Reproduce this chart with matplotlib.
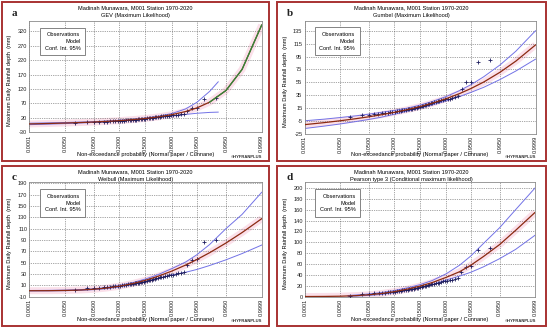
import numpy as np
import matplotlib
matplotlib.use('Agg')
import matplotlib.pyplot as plt
from matplotlib.patches import Rectangle
from statistics import NormalDist

####################################################################################################

W, H = 550, 330

station = 'Madinah Munawara, M001 Station 1970-2020'
methods = ['GEV (Maximum Likelihood)', 'Gumbel (Maximum Likelihood)',
           'Weibull (Maximum Likelihood)', 'Pearson type 3 (Conditional maximum likelihood)']
letters = ['a', 'b', 'c', 'd']
legend_lines = ['Observations', 'Model', 'Conf. Int. 95%']
x_label = 'Non-exceedance probability (Normal paper / Cunnane)'
y_label = 'Maximum Daily Rainfall depth  (mm)'

x_ticks = [0.0001, 0.005, 0.05, 0.2, 0.5, 0.8, 0.95, 0.995, 0.9999]

# annual maxima 1970-2020 (sorted), mm
obs = [2, 4.5, 5, 6, 6.5, 7, 7.5, 8, 8.5, 9, 9.5, 10, 10.5, 11, 11.5, 12, 12.5, 13, 13.5, 14,
       14.5, 15, 15.5, 16, 16.5, 17, 18, 19, 19.5, 20, 21, 22, 22.5, 23, 24, 25, 25.5, 26, 27, 28,
       28.5, 29, 30, 31, 32, 34, 45, 55, 56, 86, 90]

p_curve = [0.0001, 0.001, 0.005, 0.02, 0.05, 0.1, 0.2, 0.35, 0.5, 0.65, 0.8, 0.9, 0.95, 0.98,
           0.995, 0.999, 0.9999]

gev_model = [-1.0, 0.6, 2.1, 4.0, 5.8, 7.7, 10.4, 14.1, 18.0, 23.0, 31.1, 42.0, 54.6, 74.7,
             115, 188, 342]
p_gev_ci = [0.0001, 0.001, 0.005, 0.02, 0.05, 0.1, 0.2, 0.35, 0.5, 0.65, 0.8, 0.9, 0.95, 0.98, 0.99]
gev_upper = [1.5, 2.8, 4.0, 5.6, 7.1, 8.9, 11.6, 15.3, 19.6, 25.2, 35.0, 51.0, 74.0, 112, 145]
gev_lower = [-3.5, -1.6, 0.2, 2.4, 4.4, 6.4, 9.2, 12.8, 16.4, 20.8, 26.5, 32.0, 36.0, 39.0, 40.0]

gumbel_model = [-10.5, -7.4, -4.5, -1.2, 1.7, 4.5, 8.4, 13.0, 17.5, 22.6, 29.7, 37.8, 45.6, 55.6,
                70.7, 88.1, 113]
gumbel_upper = [-4.5, -2.0, 0.5, 3.2, 5.8, 8.3, 11.4, 15.3, 19.8, 25.2, 33.0, 42.4, 51.6, 63.8,
                82.0, 103.5, 135]
gumbel_lower = [-16.5, -12.8, -9.5, -5.6, -2.4, 0.7, 5.4, 10.7, 15.2, 20.0, 26.4, 33.2, 39.6,
                47.4, 59.4, 72.7, 91]

weibull_model = [0.5, 0.6, 1.0, 1.8, 3.2, 5.0, 8.4, 13.5, 19.0, 25.7, 35.1, 45.7, 55.5, 67.6,
                 84.6, 103, 127.5]
weibull_upper = [1.0, 1.2, 1.6, 2.6, 4.0, 6.0, 9.8, 15.2, 21.2, 28.5, 39.5, 51.0, 64.0, 82.0,
                 110, 135, 174]
weibull_lower = [0.2, 0.3, 0.6, 1.3, 2.5, 4.0, 7.0, 11.6, 16.5, 22.0, 28.5, 33.0, 38.0, 45.0,
                 55.0, 66.0, 81]

p3_model = [0.3, 0.5, 0.9, 2.0, 3.6, 5.6, 9.2, 14.2, 19.5, 25.8, 35.5, 46.0, 58.0, 74.0, 96.0,
            122, 155]
p_p3_ci = [0.01, 0.02, 0.05, 0.1, 0.2, 0.35, 0.5, 0.65, 0.8, 0.9, 0.95, 0.98, 0.995, 0.999, 0.9999]
p3_upper = [2.2, 3.2, 5.2, 7.4, 11.2, 16.6, 22.2, 29.5, 42.0, 58.0, 75.0, 98.0, 127, 160, 200]
p3_lower = [0.6, 1.2, 2.4, 4.0, 7.2, 11.9, 16.8, 22.2, 30.5, 38.0, 45.0, 55.0, 70.0, 87.0, 113]

####################################################################################################

nd = NormalDist()
fwd = np.vectorize(lambda p: nd.inv_cdf(min(max(p, 1e-9), 1 - 1e-9)), otypes=[float])
inv = np.vectorize(nd.cdf, otypes=[float])

n = len(obs)
p_obs = [(i + 1 - 0.4) / (n + 0.2) for i in range(n)]   # Cunnane

MODEL = '#8b2a12'
CI = '#7272e6'
OBS = '#1e1e5e'
FRAME = '#a83232'
FS = 4.1
FONT = 'Liberation Sans'

fig = plt.figure(figsize=(W / 100, H / 100), dpi=100)
fig.patch.set_facecolor('white')


def px_rect(l, t, r, b):
    return [l / W, 1 - b / H, (r - l) / W, (b - t) / H]


panels = [
    # frame, axes, yticks, ylim, model, ci probs, upper, lower
    dict(frame=(2, 2, 269, 161), axes=(29.3, 21, 261.7, 132.3),
         yticks=range(-30, 321, 50), ylim=(-30, 356),
         model=gev_model, p_ci=p_gev_ci, upper=gev_upper, lower=gev_lower),
    dict(frame=(277, 2, 546, 161), axes=(304.5, 20.7, 535.5, 134),
         yticks=range(-25, 136, 20), ylim=(-25, 150.6),
         model=gumbel_model, p_ci=p_curve, upper=gumbel_upper, lower=gumbel_lower),
    dict(frame=(2, 166, 269, 326), axes=(29.3, 182.3, 261.7, 296.7),
         yticks=range(-10, 191, 20), ylim=(-10, 191.6),
         model=weibull_model, p_ci=p_curve, upper=weibull_upper, lower=weibull_lower),
    dict(frame=(277, 166, 546, 326), axes=(305, 182.3, 535, 296.7),
         yticks=range(0, 201, 20), ylim=(0, 210.5),
         model=p3_model, p_ci=p_p3_ci, upper=p3_upper, lower=p3_lower),
]

for k, pan in enumerate(panels):
    fl, ft, fr, fb = pan['frame']
    al, at, ar, ab = pan['axes']
    fig.add_artist(Rectangle((fl / W, 1 - fb / H), (fr - fl) / W, (fb - ft) / H,
                             transform=fig.transFigure, fill=False, edgecolor=FRAME, lw=1.4))

    ax = fig.add_axes(px_rect(al, at, ar, ab))
    ax.set_xscale('function', functions=(fwd, inv))
    ax.set_xlim(0.0001, 0.9999)
    ax.set_ylim(*pan['ylim'])
    ax.set_xticks(x_ticks)
    ax.set_xticklabels(['%.4f' % p for p in x_ticks], rotation=90, fontsize=FS, family=FONT)
    ax.xaxis.set_minor_locator(matplotlib.ticker.NullLocator())
    ax.set_yticks(list(pan['yticks']))
    ax.set_yticklabels([str(v) for v in pan['yticks']], fontsize=FS, family=FONT)
    ax.tick_params(length=0, pad=1.5, colors='#202020')
    ax.grid(True, color='#505050', lw=0.5, ls=(0, (1, 1.6)))
    for s in ax.spines.values():
        s.set_color('#8a8a8a')
        s.set_linewidth(0.6)

    # faint pink halo around the model curve, as in the original output
    ax.plot(p_curve, pan['model'], color='#fbe0ea', lw=5, solid_capstyle='butt', zorder=1)
    ax.plot(pan['p_ci'], pan['upper'], color=CI, lw=0.7, zorder=2)
    ax.plot(pan['p_ci'], pan['lower'], color=CI, lw=0.7, zorder=2)
    ax.plot(p_obs, obs, ls='none', marker='+', ms=3.2, mew=0.6, color=OBS, zorder=3)
    ax.plot(p_curve, pan['model'], color=MODEL, lw=0.9, zorder=4)
    if k == 0:
        # upper tail drawn green in the original software output
        ax.plot(p_curve[-4:], pan['model'][-4:], color='#2e8b3a', lw=0.9, zorder=4)

    ax.text(0.22, 0.9, '\n'.join(legend_lines), transform=ax.transAxes, ha='right',
            va='top', fontsize=FS, family=FONT, linespacing=1.45, multialignment='right',
            bbox=dict(boxstyle='square,pad=0.8', fc='white', ec='#707070', lw=0.6), zorder=5)

    cx = (fl + fr) / 2
    fig.text(cx / W, 1 - (ft + 5.5) / H, station, ha='center', va='center', fontsize=FS,
             family=FONT)
    fig.text(cx / W, 1 - (ft + 13) / H, methods[k], ha='center', va='center', fontsize=FS,
             family=FONT)
    fig.text((fl + 12.5) / W, 1 - (ft + 11.5) / H, letters[k], ha='center', va='center',
             fontsize=8, family='Liberation Serif', weight='bold', color='#222222')
    fig.text((fl + 8) / W, 1 - ((at + ab) / 2 + 4) / H, y_label, rotation=90, ha='center',
             va='center', fontsize=FS, family=FONT)
    fig.text((al + ar) / 2 / W, 1 - (fb - 6.5) / H, x_label, ha='center', va='center',
             fontsize=FS, family=FONT)
    fig.text((ar + 1) / W, 1 - (fb - 4.5) / H, '©HYFRANPLUS', ha='right', va='center',
             fontsize=3, family=FONT, weight='bold', color='#303030')

fig.savefig('out.png', dpi=100)
